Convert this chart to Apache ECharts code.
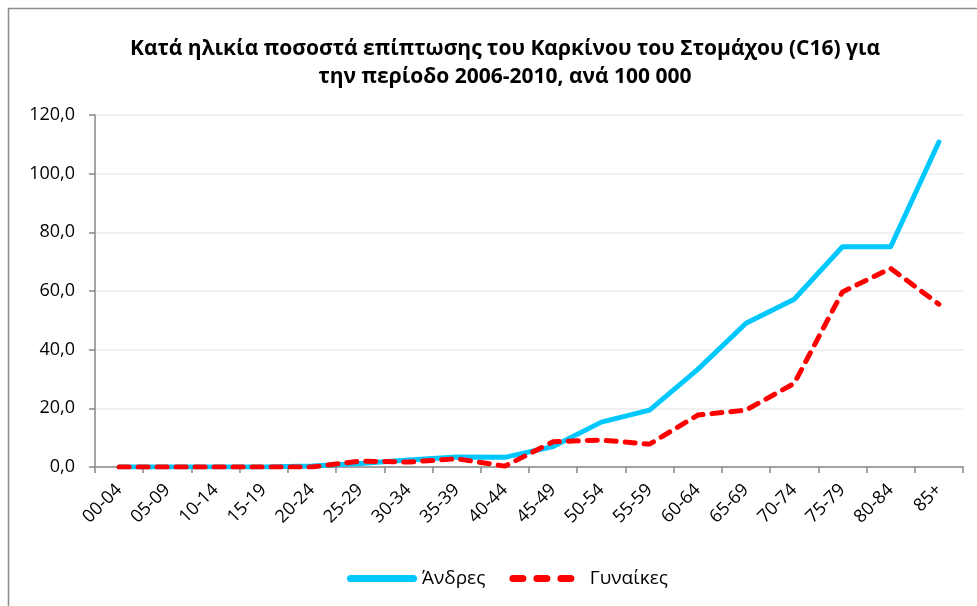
<!DOCTYPE html>
<html>
<head>
<meta charset="utf-8">
<script src="https://cdn.jsdelivr.net/npm/echarts@6/dist/echarts.min.js"></script>
<style>
html,body{margin:0;padding:0;background:#fff;}
#chart{width:977px;height:606px;}
</style>
</head>
<body>
<div id="chart"></div>
<script>
const categories = ['00-04','05-09','10-14','15-19','20-24','25-29','30-34','35-39','40-44','45-49','50-54','55-59','60-64','65-69','70-74','75-79','80-84','85+'];
const men = [0,0,0,0,0.3,1.2,2.4,3.4,3.3,7.0,15.3,19.4,33.3,49.0,57.2,75.1,75.1,110.8];
const women = [0,0,0,0,0,2.0,1.7,2.8,0.3,8.6,9.2,7.8,17.7,19.4,28.5,59.7,67.7,55.5];
const yTicks = [0,20,40,60,80,100,120];
const titleText = 'Κατά ηλικία ποσοστά επίπτωσης του Καρκίνου του Στομάχου (C16) για\nτην περίοδο 2006-2010, ανά 100 000';
const seriesNames = ['Άνδρες','Γυναίκες'];

const chart = echarts.init(document.getElementById('chart'));
const font = 'Open Sans, Noto Sans, sans-serif';
chart.setOption({
  animation:false,
  title:{
    text:titleText,
    left:500, top:30, textAlign:'center',
    textStyle:{fontFamily:font,fontSize:21,fontWeight:'bold',color:'#000',lineHeight:28}
  },
  graphic:[{type:'rect',shape:{x:8.5,y:8.5,width:1100,height:800},style:{fill:'none',stroke:'#8c8c8c',lineWidth:1.5},silent:true}],
  legend:{
    top:564, left:342,
    itemWidth:70, itemHeight:7, itemGap:24,
    textStyle:{fontFamily:font,fontSize:19,color:'#000'},
    data:[
      {name:seriesNames[0],icon:'path://M3.5,0 h63 a3.5,3.5 0 0 1 0,7 h-63 a3.5,3.5 0 0 1 0,-7z'},
      {name:seriesNames[1],textStyle:{padding:[0,0,0,8]},icon:'path://M3.5,0 h10 a3.5,3.5 0 0 1 0,7 h-10 a3.5,3.5 0 0 1 0,-7z M27.5,0 h10 a3.5,3.5 0 0 1 0,7 h-10 a3.5,3.5 0 0 1 0,-7z M51.5,0 h10 a3.5,3.5 0 0 1 0,7 h-10 a3.5,3.5 0 0 1 0,-7z'}
    ]
  },
  grid:{left:95,right:14,top:115,bottom:139,containLabel:false},
  xAxis:{
    type:'category', data:categories, boundaryGap:true,
    axisLine:{lineStyle:{color:'#888',width:1.5}},
    axisTick:{show:true,alignWithLabel:false,length:6,lineStyle:{color:'#888',width:1.5}},
    axisLabel:{rotate:45,interval:0,fontFamily:font,fontSize:18,color:'#000',margin:20}
  },
  yAxis:{
    type:'value', min:yTicks[0], max:yTicks[yTicks.length-1], interval:20,
    axisLine:{show:true,lineStyle:{color:'#888',width:1.5}},
    axisTick:{show:true,inside:false,length:6,lineStyle:{color:'#888',width:1.5}},
    axisLabel:{fontFamily:font,fontSize:18,color:'#000',margin:20,formatter:v=>v.toFixed(1).replace('.',',')},
    splitLine:{lineStyle:{color:'#ececec',width:1.5}}
  },
  series:[
    {name:seriesNames[0],type:'line',data:men,symbol:'none',
     lineStyle:{color:'#00c8ff',width:5,cap:'round',join:'round'},itemStyle:{color:'#00c8ff'},z:2},
    {name:seriesNames[1],type:'line',data:women,symbol:'none',
     lineStyle:{color:'#ff0000',width:5,type:[10,9],cap:'round',join:'round'},itemStyle:{color:'#ff0000'},z:3}
  ]
});
</script>
</body>
</html>
